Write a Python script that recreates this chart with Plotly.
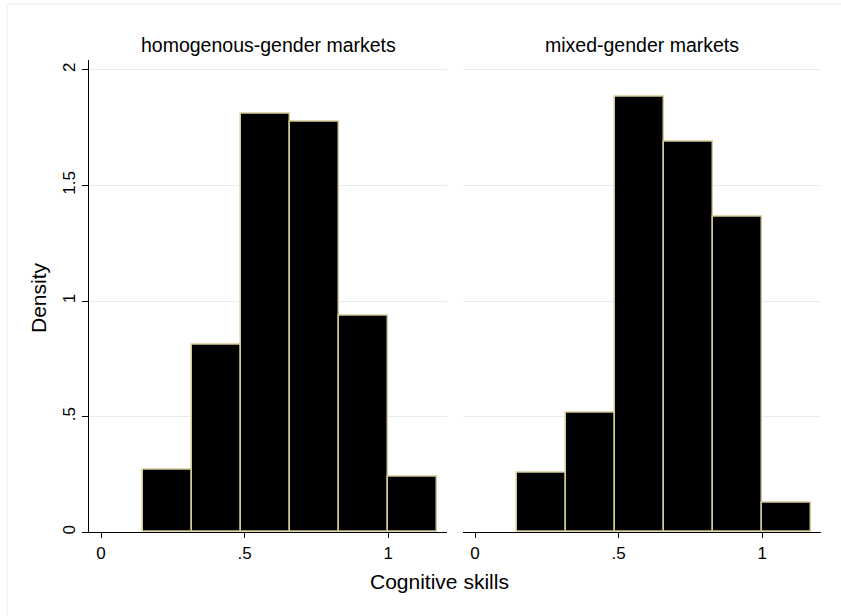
import plotly.graph_objects as go

# Histogram bins shared by both panels (Cognitive skills)
bin_edges = [6/41, 13/41, 20/41, 27/41, 34/41, 41/41, 48/41]

# Density per bin
homogenous_density = [0.270, 0.810, 1.809, 1.777, 0.935, 0.241]
mixed_density = [0.259, 0.517, 1.885, 1.690, 1.363, 0.128]

panel_titles = ["homogenous-gender markets", "mixed-gender markets"]
x_ticks = [0, 0.5, 1]
x_tick_text = ["0", ".5", "1"]
y_ticks = [0, 0.5, 1, 1.5, 2]
y_tick_text = ["0", ".5", "1", "1.5", "2"]

W, H = 841, 616
FONT = "Liberation Sans, Arial, Helvetica, sans-serif"
GRID = "#e4eeee"
EDGE = "#d2c995"

centers = [(a + b) / 2 for a, b in zip(bin_edges[:-1], bin_edges[1:])]
widths = [b - a for a, b in zip(bin_edges[:-1], bin_edges[1:])]

fig = go.Figure()
for i, dens in enumerate([homogenous_density, mixed_density]):
    fig.add_trace(go.Bar(
        x=centers, y=dens, width=widths,
        marker=dict(color="black", line=dict(color=EDGE, width=1.5)),
        xaxis="x" if i == 0 else "x2",
        yaxis="y" if i == 0 else "y2",
        showlegend=False,
        hoverinfo="skip",
    ))

def px_x(p):
    return p / W

def px_y(p):
    return 1 - p / H

x_range = [-0.042, 1.205]
y_range = [0, 2.043]
common_x = dict(
    range=x_range, tickvals=x_ticks, ticktext=x_tick_text,
    showline=True, linecolor="black", linewidth=1,
    ticks="outside", ticklen=5, tickcolor="black",
    showgrid=False, zeroline=False,
    tickfont=dict(family=FONT, size=17, color="black"),
)

fig.update_layout(
    width=W, height=H,
    margin=dict(l=0, r=0, t=0, b=0),
    paper_bgcolor="white", plot_bgcolor="white",
    bargap=0,
    xaxis=dict(common_x, domain=[px_x(89), px_x(447)], anchor="y"),
    xaxis2=dict(common_x, domain=[px_x(463), px_x(821)], anchor="y2"),
    yaxis=dict(
        domain=[px_y(534), px_y(60)], range=y_range,
        tickvals=y_ticks, ticktext=y_tick_text, tickangle=-90,
        showline=True, linecolor="black", linewidth=1,
        ticks="outside", ticklen=6, tickcolor="black",
        showgrid=True, gridcolor=GRID, gridwidth=1, zeroline=False,
        tickfont=dict(family=FONT, size=17, color="black"),
        anchor="x",
    ),
    yaxis2=dict(
        domain=[px_y(534), px_y(60)], range=y_range,
        tickvals=y_ticks, showticklabels=False, showline=False,
        showgrid=True, gridcolor=GRID, gridwidth=1, zeroline=False,
        anchor="x2",
    ),
)

annotations = []
for title, cx in zip(panel_titles, [268, 642]):
    annotations.append(dict(
        text=title, x=px_x(cx), y=px_y(45), xref="paper", yref="paper",
        showarrow=False, xanchor="center", yanchor="middle",
        font=dict(family=FONT, size=19.5, color="black"),
    ))
annotations.append(dict(
    text="Cognitive skills", x=px_x(439), y=px_y(583), xref="paper", yref="paper",
    showarrow=False, xanchor="center", yanchor="middle",
    font=dict(family=FONT, size=21, color="black"),
))
annotations.append(dict(
    text="Density", x=px_x(38), y=px_y(299), xref="paper", yref="paper",
    showarrow=False, xanchor="center", yanchor="middle", textangle=-90,
    font=dict(family=FONT, size=21, color="black"),
))
fig.update_layout(annotations=annotations)

# Faint outer frame
fig.add_shape(type="rect", xref="paper", yref="paper",
              x0=px_x(7), y0=-0.05, x1=1.05, y1=px_y(4),
              line=dict(color="#e6eeee", width=1), fillcolor="rgba(0,0,0,0)",
              layer="below")

fig.write_html("out.html")
